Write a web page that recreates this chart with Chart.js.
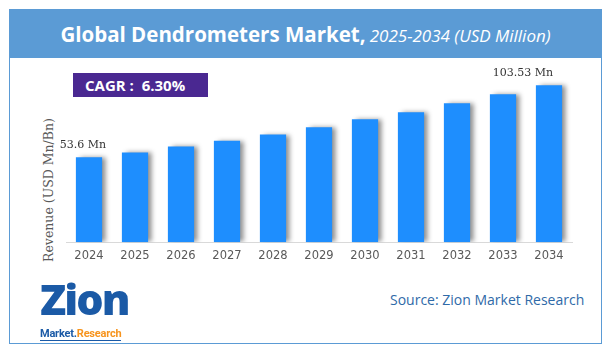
<!DOCTYPE html>
<html>
<head>
<meta charset="utf-8">
<script src="https://cdn.jsdelivr.net/npm/chart.js@4.4.1/dist/chart.umd.min.js"></script>
<style>
  html, body { margin: 0; padding: 0; background: #fff; }
  body { width: 611px; height: 353px; position: relative; overflow: hidden; font-family: "Open Sans", sans-serif; }
  #frame { position: absolute; left: 9px; top: 9px; width: 591px; height: 333px; border: 1px solid #5b9bd5; }
  #header { position: absolute; left: 9px; top: 9px; width: 593px; height: 49px; background: #5b9bd5; color: #fff;
            text-align: center; line-height: 51px; white-space: nowrap; }
  #header b { font-size: 20.5px; font-weight: 700; }
  #header i { font-size: 17px; font-weight: 400; }
  #cagr { position: absolute; left: 73px; top: 73px; width: 135px; height: 24px; background: #4a2891; color: #fff;
          font-weight: 700; font-size: 15px; line-height: 24px; box-sizing: border-box; padding-left: 12px; white-space: pre; }
  #ytitle { position: absolute; left: 48px; top: 190px; transform: translate(-50%, -50%) rotate(-90deg);
            font-family: "DejaVu Serif", serif; font-size: 12.5px; color: #595959; white-space: nowrap; }
  #chart { position: absolute; left: 0; top: 60px; }
  #source { position: absolute; left: 390px; top: 290px; font-size: 14px; color: #2f6aa8; white-space: nowrap; }
  #logo { position: absolute; left: 40px; top: 278px; width: 90px; }
  #logo .big { font-family: "Open Sans", sans-serif; font-weight: 800; font-size: 43px; line-height: 42px; color: #1b5aa6; letter-spacing: -2px; }
  #logo .small { font-family: Roboto, sans-serif; font-weight: 700; font-size: 11px; line-height: 13px; color: #1b5aa6;
                 border-bottom: 1px solid #1b5aa6; display: inline-block; letter-spacing: -0.2px; }
  #logo .small span { color: #f7941d; }
</style>
</head>
<body>
<div id="frame"></div>
<div id="header"><b>Global Dendrometers Market,</b> <i>2025-2034 (USD Million)</i></div>
<div id="cagr">CAGR :  6.30%</div>
<div id="ytitle">Revenue (USD Mn/Bn)</div>
<canvas id="chart" width="611" height="220"></canvas>
<div id="logo"><div class="big">Zion</div><div class="small">Market.<span>Research</span></div></div>
<div id="source">Source: Zion Market Research</div>

<script>
// 年份和数值
const years = ['2024', '2025', '2026', '2027', '2028', '2029', '2030', '2031', '2032', '2033', '2034'];
const revenue = [53.6, 56.7, 60.5, 64.1, 68.0, 72.6, 77.6, 82.0, 87.7, 93.5, 99.1];
const valueLabels = ['53.6 Mn', '', '', '', '', '', '', '', '', '', '103.53 Mn'];

// 柱子阴影
const barShadow = {
    id: 'barShadow',
    beforeDatasetsDraw(chart) {
        const ctx = chart.ctx;
        ctx.save();
        ctx.shadowColor = 'rgba(0, 0, 0, 0.45)';
        ctx.shadowBlur = 5;
        ctx.shadowOffsetX = 4;
        ctx.shadowOffsetY = 0;
    },
    afterDatasetsDraw(chart) {
        chart.ctx.restore();
    }
};

// 首尾数值标签
const endLabels = {
    id: 'endLabels',
    afterDraw(chart) {
        const ctx = chart.ctx;
        const bars = chart.getDatasetMeta(0).data;
        ctx.save();
        ctx.font = '11px "DejaVu Serif", serif';
        ctx.fillStyle = '#333';
        ctx.textBaseline = 'middle';
        bars.forEach((bar, i) => {
            if (!valueLabels[i]) return;
            if (i === bars.length - 1) {
                ctx.textAlign = 'right';
                ctx.fillText(valueLabels[i], bar.x + bar.width / 2 - 9, bar.y - 12);
            } else {
                ctx.textAlign = 'center';
                ctx.fillText(valueLabels[i], bar.x - 6, bar.y - 12);
            }
        });
        ctx.restore();
    }
};

new Chart(document.getElementById('chart').getContext('2d'), {
    type: 'bar',
    data: {
        labels: years,
        datasets: [{
            data: revenue,
            backgroundColor: '#1e8efe',
            borderWidth: 0,
            categoryPercentage: 1,
            barPercentage: 0.57
        }]
    },
    options: {
        responsive: false,
        animation: false,
        devicePixelRatio: 1,
        layout: { padding: { left: 66, right: 39, top: 8, bottom: 10 } },
        scales: {
            x: {
                grid: { display: false, drawTicks: false },
                border: { display: true, color: '#d9d9d9', width: 1 },
                ticks: { color: '#595959', font: { family: 'DejaVu Sans', size: 11.5 }, padding: 7 }
            },
            y: {
                display: false,
                min: 0,
                max: 110
            }
        },
        plugins: {
            legend: { display: false },
            tooltip: { enabled: false }
        }
    },
    plugins: [barShadow, endLabels]
});
</script>
</body>
</html>
